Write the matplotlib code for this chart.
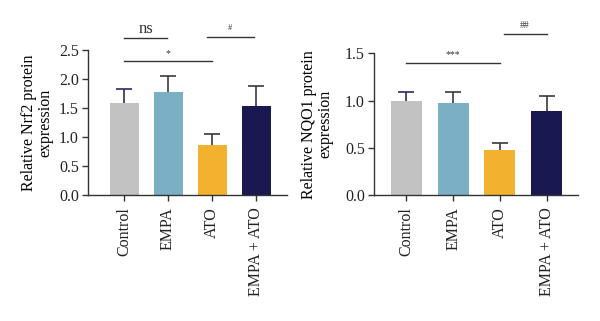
import matplotlib.pyplot as plt
import numpy as np

plt.rcParams['font.family'] = ['Liberation Serif', 'DejaVu Serif']

groups = ['Control', 'EMPA', 'ATO', 'EMPA + ATO']
colors = ['#c2c2c2', '#7aafc4', '#f2b230', '#1a1850']
err_colors = ['#2b2b5e', '#3a3a3a', '#3a3a3a', '#3a3a3a']

nrf2_mean = [1.59, 1.77, 0.86, 1.53]
nrf2_err = [0.24, 0.29, 0.20, 0.35]

nqo1_mean = [1.00, 0.97, 0.48, 0.89]
nqo1_err = [0.09, 0.12, 0.07, 0.16]

fig = plt.figure(figsize=(6, 3.21), dpi=100)
ax1 = fig.add_axes([0.1467, 0.3925, 0.3313, 0.4515])
ax2 = fig.add_axes([0.623, 0.3925, 0.340, 0.4415])


def draw(ax, mean, err, ylim, ticks, xlim, ylabel, lpad):
    x = np.arange(len(groups))
    ax.bar(x, mean, width=0.66, color=colors, zorder=2)
    # symmetric bars drawn behind the bars, so only the upper half shows
    for i in range(len(groups)):
        ax.errorbar(x[i], mean[i], yerr=err[i], fmt='none',
                    ecolor=err_colors[i], elinewidth=1.2, capsize=5.5,
                    capthick=1.2, zorder=1)
    ax.set_xlim(xlim)
    ax.set_ylim(ylim)
    ax.set_yticks(ticks)
    ax.set_yticklabels(['%.1f' % t for t in ticks], fontsize=11.5)
    ax.set_xticks(x)
    ax.set_xticklabels(groups, rotation=90, fontsize=11.5)
    ax.set_ylabel(ylabel, fontsize=11.5, linespacing=1.05, labelpad=lpad)
    for s in ['top', 'right']:
        ax.spines[s].set_visible(False)
    for s in ['left', 'bottom']:
        ax.spines[s].set_color('#333333')
        ax.spines[s].set_linewidth(1.0)
    ax.tick_params(colors='#333333', length=4.5, width=1.0, pad=2)
    ax.tick_params(axis='x', pad=4)
    ax.tick_params(labelcolor='#222222')


def sig(ax, x0, x1, y, text, dy, fs=7):
    ax.plot([x0, x1], [y, y], color='#333333', lw=1.0, clip_on=False)
    ax.text((x0 + x1) / 2, y + dy, text, ha='center', va='bottom',
            fontsize=fs, color='#333333', clip_on=False)


draw(ax1, nrf2_mean, nrf2_err, (0, 2.5), [0, 0.5, 1.0, 1.5, 2.0, 2.5],
     (-0.82, 3.70), 'Relative Nrf2 protein\nexpression', 4)
draw(ax2, nqo1_mean, nqo1_err, (0, 1.5), [0, 0.5, 1.0, 1.5],
     (-0.70, 3.67), 'Relative NQO1 protein\nexpression', 8)

sig(ax1, 0, 0.98, 2.70, 'ns', 0.03, fs=12)
sig(ax1, 1.88, 2.95, 2.73, '#', 0.08, fs=6)
sig(ax1, 0, 2.0, 2.31, '*', 0.06, fs=7)

sig(ax2, 0, 2.0, 1.40, '***', 0.04, fs=7)
sig(ax2, 2.08, 3.0, 1.70, '##', 0.05, fs=7)

plt.savefig('out.png', dpi=100)
